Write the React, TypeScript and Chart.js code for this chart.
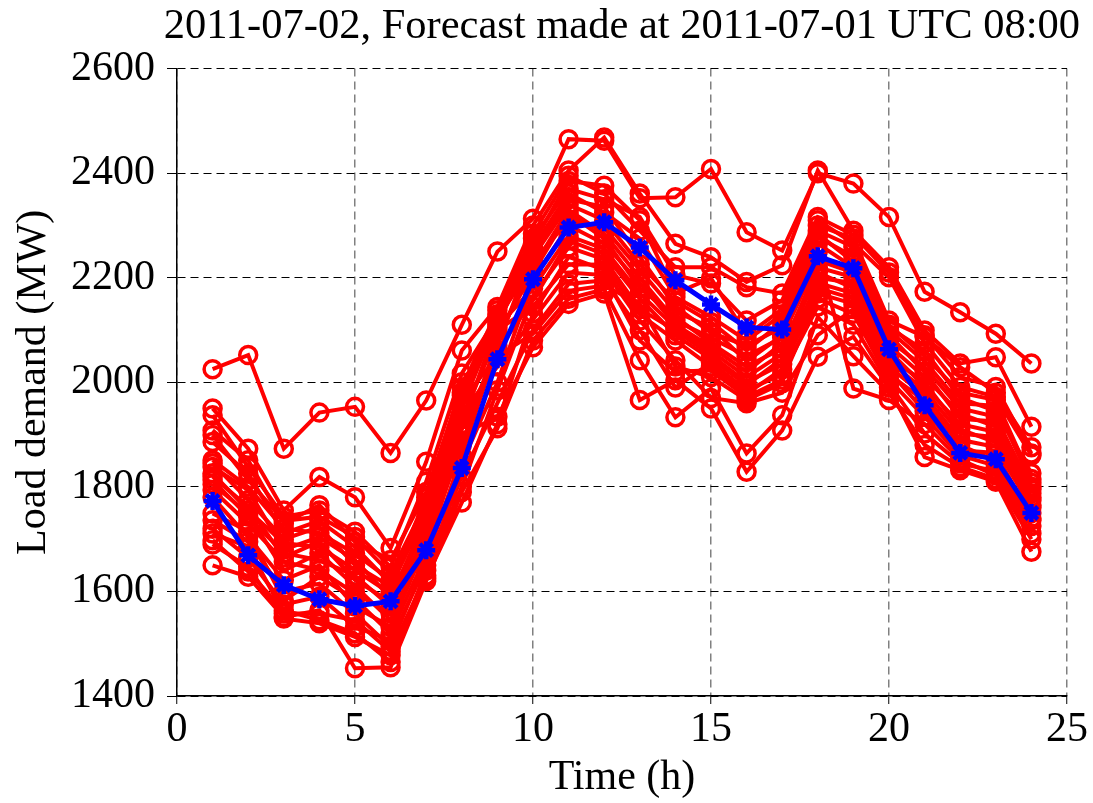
import React, { useEffect, useRef } from 'react';
import { Chart, registerables } from 'chart.js';

Chart.register(...registerables);

const FONT = '"Liberation Serif", "Times New Roman", serif';

const TITLE = '2011-07-02, Forecast made at 2011-07-01 UTC 08:00';
const X_LABEL = 'Time (h)';
const Y_LABEL = 'Load demand (MW)';

const HOURS = [1, 2, 3, 4, 5, 6, 7, 8, 9, 10, 11, 12, 13, 14, 15, 16, 17, 18, 19, 20, 21, 22, 23, 24];
const X_TICKS = [0, 5, 10, 15, 20, 25];
const Y_TICKS = [1400, 1600, 1800, 2000, 2200, 2400, 2600];

// Blue curve
const MEAN = [1773, 1669, 1612, 1585, 1572, 1581, 1679, 1836, 2044, 2197, 2296, 2306, 2258, 2195, 2149, 2105, 2101, 2241, 2218, 2063, 1956, 1865, 1853, 1750];

// Red ensemble members
const member01 = [2025, 2052, 1873, 1942, 1953, 1865, 1965, 2110, 2250, 2313, 2465, 2462, 2352, 2354, 2408, 2287, 2252, 2400, 2380, 2316, 2173, 2134, 2093, 2036];
const member02 = [1950, 1873, 1755, 1819, 1780, 1683, 1848, 2061, 2144, 2300, 2405, 2468, 2361, 2265, 2239, 2192, 2224, 2405, 2290, 2220, 2099, 2036, 2048, 1915];
const member03 = [1937, 1838, 1743, 1755, 1714, 1647, 1810, 2017, 2125, 2220, 2330, 2284, 2200, 2118, 2085, 2050, 2086, 2233, 2210, 2090, 2020, 1930, 1925, 1800];
const member04 = [1908, 1851, 1730, 1765, 1695, 1660, 1790, 1990, 2138, 2275, 2370, 2350, 2316, 2205, 2189, 2118, 2157, 2300, 2275, 2118, 2087, 2029, 1980, 1876];
const member05 = [1899, 1813, 1735, 1743, 1704, 1634, 1770, 2000, 2100, 2145, 2226, 2225, 2130, 2080, 2030, 1978, 2025, 2170, 2150, 2022, 1945, 1870, 1865, 1740];
const member06 = [1886, 1825, 1711, 1735, 1685, 1615, 1780, 1980, 2130, 2284, 2395, 2361, 2290, 2220, 2220, 2182, 2170, 2316, 2282, 2210, 2090, 2010, 1991, 1864];
const member07 = [1851, 1800, 1720, 1712, 1672, 1622, 1760, 1975, 2106, 2180, 2280, 2255, 2170, 2105, 2060, 2010, 2055, 2210, 2180, 2048, 2000, 1910, 1885, 1774];
const member08 = [1845, 1775, 1700, 1723, 1650, 1609, 1750, 1960, 2115, 2240, 2340, 2310, 2226, 2155, 2115, 2061, 2115, 2284, 2230, 2099, 2040, 1960, 1955, 1808];
const member09 = [1838, 1794, 1680, 1704, 1660, 1588, 1740, 1965, 2050, 2093, 2175, 2185, 2150, 2030, 2010, 1966, 1998, 2250, 1988, 1966, 1920, 1852, 1822, 1711];
const member10 = [1826, 1755, 1692, 1685, 1641, 1596, 1720, 1952, 2120, 2265, 2385, 2376, 2310, 2170, 2199, 2090, 2140, 2310, 2266, 2201, 2075, 1991, 1972, 1860];
const member11 = [1820, 1762, 1665, 1695, 1622, 1580, 1730, 1930, 2090, 2210, 2323, 2275, 2180, 2125, 2075, 2030, 2065, 2220, 2201, 2070, 2010, 1940, 1915, 1788];
const member12 = [1813, 1743, 1673, 1660, 1630, 1571, 1710, 1940, 2030, 2120, 2210, 2205, 2080, 2020, 2023, 1972, 2005, 2160, 2131, 2005, 1934, 1860, 1840, 1736];
const member13 = [1805, 1749, 1640, 1673, 1610, 1545, 1700, 1920, 2110, 2258, 2361, 2325, 2275, 2163, 2125, 2080, 2130, 2290, 2259, 2110, 2050, 1980, 1966, 1815];
const member14 = [1794, 1730, 1657, 1641, 1596, 1558, 1680, 1910, 2060, 2157, 2271, 2245, 2160, 2090, 2045, 1995, 2045, 2190, 2170, 2030, 1975, 1890, 1876, 1760];
const member15 = [1780, 1704, 1622, 1650, 1571, 1532, 1690, 1880, 2080, 2230, 2310, 2295, 2215, 2135, 2105, 2040, 2090, 2265, 2220, 2080, 2029, 1950, 1934, 1795];
const member16 = [1749, 1715, 1583, 1628, 1585, 1520, 1670, 1900, 1934, 2067, 2150, 2170, 1966, 2004, 1950, 1829, 1908, 2049, 2087, 1990, 1857, 1832, 1810, 1676];
const member17 = [1736, 1695, 1600, 1615, 1558, 1494, 1660, 1860, 2070, 2250, 2350, 2335, 2240, 2145, 2095, 2070, 2105, 2278, 2240, 2105, 2061, 1970, 1945, 1826];
const member18 = [1720, 1665, 1575, 1590, 1532, 1507, 1650, 1820, 1960, 2100, 2188, 2195, 2100, 1990, 2038, 1985, 2015, 2145, 2110, 1997, 1902, 1845, 1830, 1725];
const member19 = [1711, 1685, 1558, 1558, 1545, 1485, 1630, 1845, 2000, 2195, 2300, 2265, 2190, 2110, 2068, 2020, 2075, 2200, 2190, 2060, 1992, 1920, 1905, 1780];
const member20 = [1698, 1638, 1564, 1545, 1520, 1465, 1640, 1800, 1985, 2165, 2258, 2235, 2140, 2099, 2052, 2000, 2035, 2180, 2160, 2040, 1985, 1902, 1895, 1765];
const member21 = [1690, 1647, 1548, 1539, 1513, 1478, 1625, 1770, 1920, 2132, 2240, 2215, 2118, 2042, 1970, 1960, 1980, 2090, 2140, 2015, 1965, 1880, 1850, 1750];
const member22 = [1650, 1628, 1551, 1564, 1453, 1455, 1620, 1790, 1912, 2080, 2160, 2178, 2042, 1933, 1988, 1864, 1937, 2125, 2050, 1980, 1880, 1838, 1815, 1700];

const MEMBERS = [
  member01, member02, member03, member04, member05, member06, member07, member08,
  member09, member10, member11, member12, member13, member14, member15, member16,
  member17, member18, member19, member20, member21, member22,
];

const toPoints = (values: number[]) => values.map((v, i) => ({ x: HOURS[i], y: v }));

export default function App() {
  const canvasRef = useRef<HTMLCanvasElement | null>(null);

  useEffect(() => {
    document.body.style.margin = '0';
    const canvas = canvasRef.current;
    if (!canvas) return;

    const datasets: any[] = [
      {
        label: 'mean',
        data: toPoints(MEAN),
        borderColor: '#0000ff',
        backgroundColor: '#0000ff',
        borderWidth: 5,
        pointStyle: 'star',
        pointRadius: 9,
        pointBorderWidth: 4.5,
        pointBorderColor: '#0000ff',
        pointBackgroundColor: '#0000ff',
        tension: 0,
        xAxisID: 'x',
        yAxisID: 'y',
      },
      ...MEMBERS.map((m, k) => ({
        label: 'member ' + (k + 1),
        data: toPoints(m),
        borderColor: '#ff0000',
        backgroundColor: 'rgba(0,0,0,0)',
        borderWidth: 4,
        pointStyle: 'circle',
        pointRadius: 8.5,
        pointBorderWidth: 3.5,
        pointBorderColor: '#ff0000',
        pointBackgroundColor: 'rgba(0,0,0,0)',
        tension: 0,
        xAxisID: 'x',
        yAxisID: 'y',
      })),
    ];

    const tickFont = { family: FONT, size: 42, weight: 'normal', lineHeight: 1.2 };

    const chart = new Chart(canvas, {
      type: 'line',
      data: { datasets },
      options: {
        animation: false,
        responsive: false,
        maintainAspectRatio: false,
        layout: { padding: { left: 0, right: 13, top: 0, bottom: 0 } },
        plugins: {
          legend: { display: false },
          tooltip: { enabled: false },
          title: {
            display: true,
            text: TITLE,
            align: 'end',
            color: '#000',
            font: { family: FONT, size: 42.5, weight: 'normal', lineHeight: 1.2 },
            padding: { top: 1, bottom: 16.6 },
          },
        },
        scales: {
          x: {
            type: 'linear',
            position: 'bottom',
            min: 0,
            max: 25,
            afterBuildTicks: (s: any) => {
              s.ticks = X_TICKS.map((v) => ({ value: v }));
            },
            afterFit: (s: any) => {
              s.height = 107;
            },
            ticks: {
              color: '#000',
              font: tickFont,
              padding: 1,
              maxRotation: 0,
              autoSkip: false,
              callback: (v: any) => String(v),
            },
            grid: {
              color: '#808080',
              lineWidth: 1.5,
              tickLength: 8,
              tickColor: '#000',
              tickWidth: 1,
            },
            border: { display: true, color: '#000', width: 1.5, dash: [8, 5] },
            title: {
              display: true,
              text: X_LABEL,
              color: '#000',
              font: tickFont,
              padding: { top: 0, bottom: 0 },
            },
          },
          y: {
            type: 'linear',
            position: 'left',
            min: 1400,
            max: 2600,
            afterBuildTicks: (s: any) => {
              s.ticks = Y_TICKS.map((v) => ({ value: v }));
            },
            afterFit: (s: any) => {
              s.width = 177;
            },
            ticks: {
              color: '#000',
              font: tickFont,
              padding: 12,
              callback: (v: any) => String(v),
            },
            grid: {
              color: '#000',
              lineWidth: 1,
              tickLength: 10,
              tickColor: '#000',
              tickWidth: 1,
            },
            border: { display: true, color: '#000', width: 1.5, dash: [8, 5] },
            title: {
              display: true,
              text: Y_LABEL,
              color: '#000',
              font: tickFont,
              padding: { top: 9, bottom: 0 },
            },
          },
          yR: {
            type: 'linear',
            position: 'right',
            display: true,
            grid: { display: false, drawOnChartArea: false, drawTicks: false },
            ticks: { display: false },
            border: { display: false },
            afterFit: (s: any) => {
              s.width = 13;
            },
          },
        },
      } as any,
    });

    return () => {
      chart.destroy();
    };
  }, []);

  return (
    <div style={{ width: 1093, height: 803, background: '#fff' }}>
      <canvas ref={canvasRef} width={1093} height={803} style={{ display: 'block', width: 1093, height: 803 }} />
    </div>
  );
}
